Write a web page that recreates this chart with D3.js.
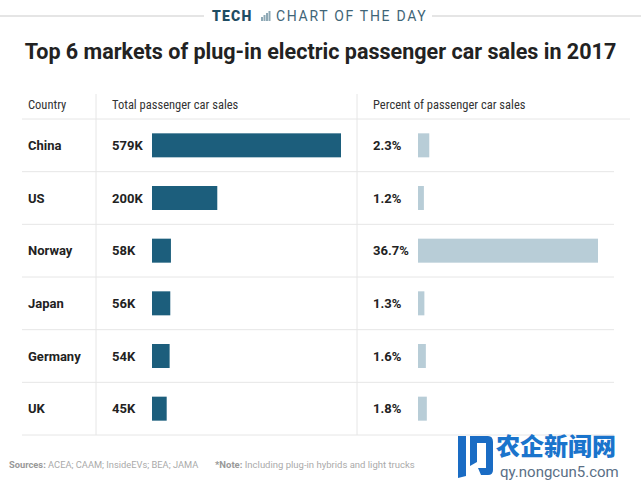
<!DOCTYPE html>
<html><head><meta charset="utf-8">
<script src="https://cdn.jsdelivr.net/npm/d3@7"></script>
<style>body{margin:0;background:#fff}svg{display:block}</style>
</head><body>
<svg id="c" width="641" height="481"></svg>
<script>
const countries = ["China","US","Norway","Japan","Germany","UK"];
const totalSales = [579,200,58,56,54,45];           // thousands
const totalLabels = ["579K","200K","58K","56K","54K","45K"];
const percentShare = [2.3,1.2,36.7,1.3,1.6,1.8];
const percentLabels = ["2.3%","1.2%","36.7%","1.3%","1.6%","1.8%"];
const headers = ["Country","Total passenger car sales","Percent of passenger car sales"];

const svg = d3.select("#c");
const F = "Roboto, 'Liberation Sans', sans-serif";

// top banner
svg.append("line").attr("x1",0).attr("x2",204).attr("y1",16).attr("y2",16).attr("stroke","#dcdcdc").attr("stroke-width",1.5);
svg.append("line").attr("x1",432).attr("x2",641).attr("y1",16).attr("y2",16).attr("stroke","#dcdcdc").attr("stroke-width",1.5);
svg.append("text").attr("x",212).attr("y",21).attr("font-family",F).attr("font-weight",900).attr("font-size",14)
  .attr("letter-spacing",1.2).attr("fill","#1e4d63").text("TECH");
const ic = svg.append("g").attr("transform","translate(261,11)");
[[0,6,2,4],[2.5,4,2,6],[5,2,2,8],[7.5,0,2,10]].forEach(r=>ic.append("rect").attr("x",r[0]).attr("y",r[1]).attr("width",r[2]).attr("height",r[3]).attr("fill","#8fa9b6"));
svg.append("text").attr("x",276).attr("y",21).attr("font-family",F).attr("font-weight",400).attr("font-size",14)
  .attr("letter-spacing",1.7).attr("fill","#3f6577").text("CHART OF THE DAY");

// title
const title = svg.append("text").attr("x",320.5).attr("y",59).attr("text-anchor","middle")
  .attr("font-family",F).attr("font-weight",700).attr("font-size",21).attr("fill","#222")
  .text("Top 6 markets of plug-in electric passenger car sales in 2017");
const tw = title.node().getComputedTextLength();
title.attr("font-size", 21*592/tw);

// layout
const y = d3.scaleBand().domain(countries).range([119,435]);
const xTotal = d3.scaleLinear().domain([0,579]).range([152,341]);
const xPct = d3.scaleLinear().domain([0,36.7]).range([418,598]);

// headers
const hx = [28,112,373];
headers.forEach((h,i)=>svg.append("text").attr("x",hx[i]).attr("y",109).attr("font-family",F)
  .attr("font-size",12.5).attr("font-stretch","condensed").attr("fill","#333").text(h));

// grid lines
svg.append("line").attr("x1",22).attr("x2",630).attr("y1",119).attr("y2",119).attr("stroke","#e6e6e6");
countries.forEach(c=>{
  svg.append("line").attr("x1",22).attr("x2",614).attr("y1",y(c)+y.bandwidth()).attr("y2",y(c)+y.bandwidth())
    .attr("stroke","#e6e6e6");
});
[96,357].forEach(x=>svg.append("line").attr("x1",x).attr("x2",x).attr("y1",94).attr("y2",435).attr("stroke","#e6e6e6"));

const rows = svg.append("g").selectAll("g").data(countries).join("g");
rows.append("text").attr("x",28).attr("y",(d)=>y(d)+y.bandwidth()/2+4.5)
  .attr("font-family",F).attr("font-weight",700).attr("font-size",13).attr("fill","#222").text(d=>d);
rows.append("text").attr("x",112).attr("y",(d)=>y(d)+y.bandwidth()/2+4.5)
  .attr("font-family",F).attr("font-weight",700).attr("font-size",13).attr("fill","#222").text((d,i)=>totalLabels[i]);
rows.append("rect").attr("x",xTotal(0)).attr("y",d=>y(d)+y.bandwidth()/2-12).attr("height",24)
  .attr("width",(d,i)=>xTotal(totalSales[i])-xTotal(0)).attr("fill","#1c5e7c");
rows.append("text").attr("x",373).attr("y",(d)=>y(d)+y.bandwidth()/2+4.5)
  .attr("font-family",F).attr("font-weight",700).attr("font-size",13).attr("fill","#222").text((d,i)=>percentLabels[i]);
rows.append("rect").attr("x",xPct(0)).attr("y",d=>y(d)+y.bandwidth()/2-12).attr("height",24)
  .attr("width",(d,i)=>xPct(percentShare[i])-xPct(0)).attr("fill","#b8cdd7");

// footer
const f1 = svg.append("text").attr("x",9).attr("y",468).attr("font-family",F).attr("font-size",9.3).attr("fill","#aaa");
f1.append("tspan").attr("font-weight",700).attr("fill","#999").text("Sources: ");
f1.append("tspan").text("ACEA; CAAM; InsideEVs; BEA; JAMA");
const f2 = svg.append("text").attr("x",215).attr("y",468).attr("font-family",F).attr("font-size",9.5).attr("fill","#aaa");
f2.append("tspan").attr("font-weight",700).attr("fill","#999").text("*Note: ");
f2.append("tspan").text("Including plug-in hybrids and light trucks");

// watermark
const wm = svg.append("g");
wm.append("path").attr("d","M458,436 L466,436 L466,476 L458,478 Z").attr("fill","#1a6cc4");
wm.append("path").attr("d","M470,436 L488,436 Q493,436 493,442 L493,470 Q493,475 488,475 L481,475 L478,468 L486,468 L486,443 L477,443 L477,462 L470,466 Z").attr("fill","#1a6cc4");
wm.append("text").attr("x",496).attr("y",455).attr("font-family","'Noto Sans CJK SC'").attr("font-weight",900)
  .attr("font-size",24).attr("fill","#1a74cc").text("农企新闻网");
wm.append("text").attr("x",500).attr("y",477).attr("font-family",F).attr("font-size",15).attr("fill","#5a6f86")
  .text("qy.nongcun5.com");
</script>
</body></html>
